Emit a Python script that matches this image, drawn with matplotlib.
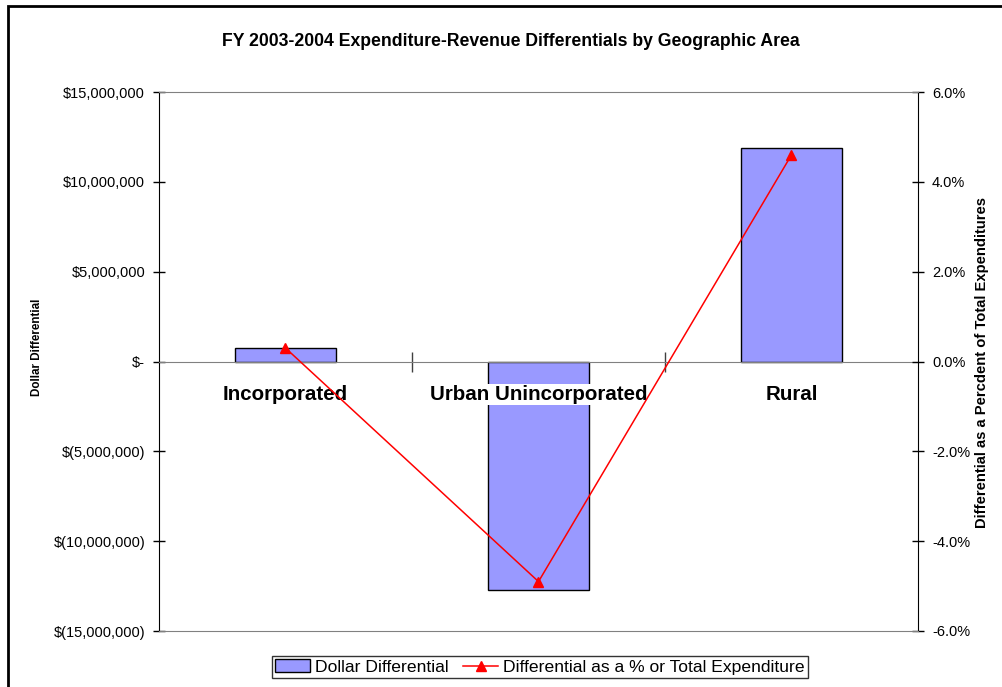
import matplotlib
matplotlib.use("Agg")
import matplotlib.pyplot as plt
from matplotlib.patches import Rectangle
from matplotlib.ticker import FuncFormatter

categories = ["Incorporated", "Urban Unincorporated", "Rural"]
dollar_diff = [750000, -12700000, 11900000]
pct_diff = [0.3, -4.9, 4.6]
left_ticks = [-15e6, -10e6, -5e6, 0, 5e6, 10e6, 15e6]
right_ticks = [-6, -4, -2, 0, 2, 4, 6]

plt.rcParams['font.family'] = ['Liberation Sans', 'DejaVu Sans']

W, H = 1002, 687
fig = plt.figure(figsize=(W / 100, H / 100), dpi=100)
L, R, T, B = 159, 918, 92, 631
ax = fig.add_axes([L / W, 1 - B / H, (R - L) / W, (B - T) / H])
ax2 = ax.twinx()

x = list(range(len(categories)))
bars = ax.bar(x, dollar_diff, width=0.4, color="#9999FF", edgecolor="black",
              linewidth=1.0, label="Dollar Differential", zorder=2)
ax.set_xlim(-0.5, 2.5)
ax.set_ylim(-15e6, 15e6)
ax.set_yticks(left_ticks)

def dollar_fmt(v, pos):
    if v == 0:
        return "$-"
    if v < 0:
        return "$({:,.0f})".format(-v)
    return "${:,.0f}".format(v)

ax.yaxis.set_major_formatter(FuncFormatter(dollar_fmt))
ax.tick_params(axis='y', direction='inout', length=8, labelsize=10.5, width=1, pad=6)

# category axis at zero
ax.spines['bottom'].set_position(('data', 0))
ax.spines['bottom'].set_color('#808080')
ax.spines['top'].set_visible(False)
ax.spines['right'].set_visible(False)
ax.spines['left'].set_color('black')
ax.set_xticks(x)
ax.set_xticklabels([])
ax.tick_params(axis='x', which='major', length=0)
ax.set_xticks([0.5, 1.5], minor=True)
ax.tick_params(axis='x', which='minor', direction='inout', length=14, width=1, color='#404040')

for xi, name in zip(x, categories):
    ax.annotate(name, xy=(xi, 0), xycoords='data', xytext=(0, -33), textcoords='offset pixels',
                ha='center', va='center', fontsize=14.8, fontweight='bold', zorder=5,
                bbox=dict(boxstyle='square,pad=0.05', facecolor='white', edgecolor='none'))

line, = ax2.plot(x, pct_diff, color="red", linewidth=1.1, marker="^", markersize=6.5,
                 label="Differential as a % or Total Expenditure", zorder=3)
ax2.set_ylim(-6, 6)
ax2.set_yticks(right_ticks)
ax2.yaxis.set_major_formatter(FuncFormatter(lambda v, p: "{:.1f}%".format(v)))
ax2.tick_params(axis='y', direction='inout', length=8, labelsize=10.5, width=1, pad=6)
ax2.spines['top'].set_color('#808080')
ax2.spines['bottom'].set_color('#808080')
ax2.spines['left'].set_visible(False)
ax2.spines['right'].set_color('black')

fig.text(511 / W, 1 - 42 / H, "FY 2003-2004 Expenditure-Revenue Differentials by Geographic Area",
         ha='center', va='center', fontsize=12.7, fontweight='bold')
fig.text(37 / W, 1 - 347 / H, "Dollar Differential", rotation=90, ha='center', va='center',
         fontsize=8.4, fontweight='bold')
fig.text(982 / W, 1 - 362 / H, "Differential as a Percdent of Total Expenditures", rotation=90,
         ha='center', va='center', fontsize=10.6, fontweight='bold')

leg = fig.legend([bars, line], [bars.get_label(), line.get_label()], loc='center',
                 bbox_to_anchor=(540 / W, 1 - 667 / H), ncol=2, fontsize=12.6,
                 frameon=True, fancybox=False, edgecolor='black', handlelength=2.0,
                 handletextpad=0.3, columnspacing=0.8, borderpad=0.2)
leg.get_frame().set_linewidth(1.0)

fig.patches.append(Rectangle((8 / W, -0.1), 1.1, 1.1 - 5.5 / H, transform=fig.transFigure,
                             fill=False, edgecolor='black', linewidth=2.0))

fig.savefig("out.png", dpi=100)
